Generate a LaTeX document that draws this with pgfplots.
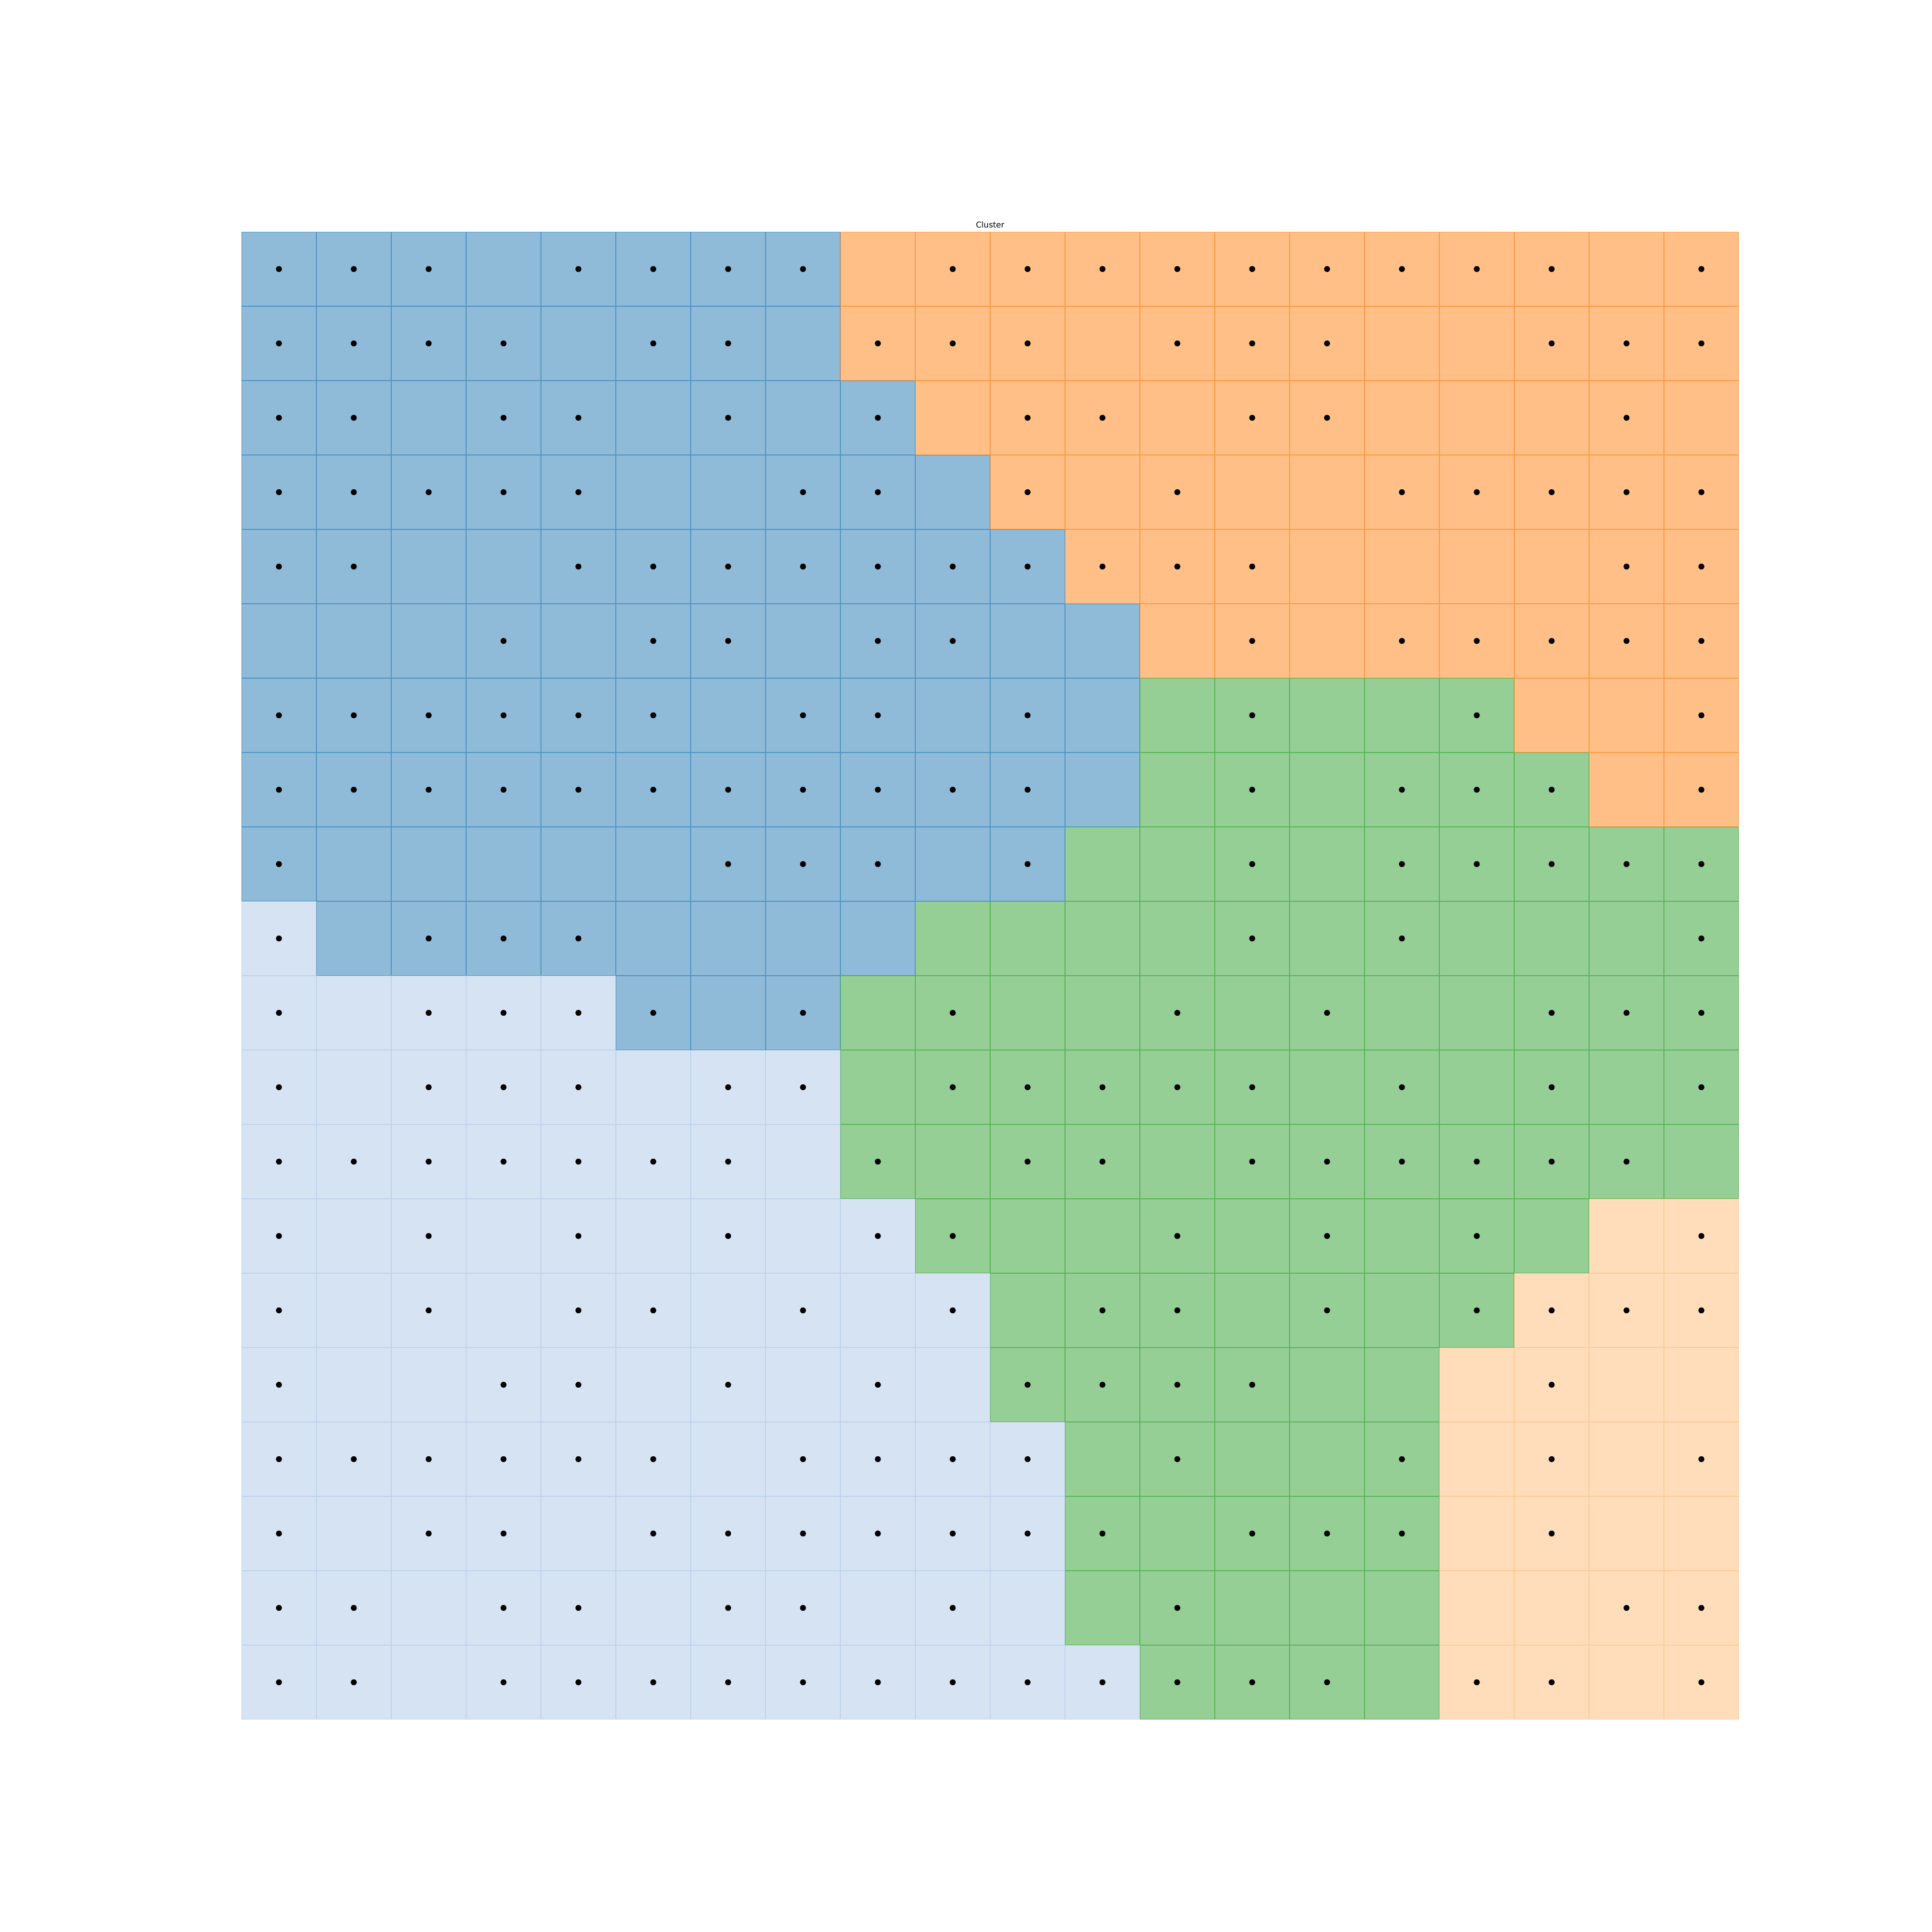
\documentclass[border=0pt]{standalone}
\usepackage{pgfplots}
\pgfplotsset{compat=1.18}
\usepackage{fontspec}
\setmainfont{DejaVu Sans}
\definecolor{tB}{HTML}{1F77B4}
\definecolor{tL}{HTML}{AEC7E8}
\definecolor{tO}{HTML}{FF7F0E}
\definecolor{tP}{HTML}{FFBB78}
\definecolor{tG}{HTML}{2CA02C}
\definecolor{fB}{HTML}{8FBBD9}
\definecolor{fL}{HTML}{D6E3F3}
\definecolor{fO}{HTML}{FFBF86}
\definecolor{fP}{HTML}{FFDDBB}
\definecolor{fG}{HTML}{95CF95}
\begin{document}
\begin{tikzpicture}
\begin{axis}[
  at={(0,0)}, anchor=south west,
  scale only axis, width=31in, height=30.8in,
  xmin=-0.5, xmax=19.5, ymin=-0.5, ymax=19.5,
  axis lines=none, ticks=none, clip=false,
  title={\fontsize{12}{14}\selectfont Cluster},
  title style={at={(0.5,1)}, anchor=base, inner sep=0pt},
  scatter/classes={
    B={mark=square*, fill=fB, draw=tB, draw opacity=0.6, line width=1pt, yscale=0.99355},
    L={mark=square*, fill=fL, draw=tL, draw opacity=0.6, line width=1pt, yscale=0.99355},
    O={mark=square*, fill=fO, draw=tO, draw opacity=0.6, line width=1pt, yscale=0.99355},
    P={mark=square*, fill=fP, draw=tP, draw opacity=0.6, line width=1pt, yscale=0.99355},
    G={mark=square*, fill=fG, draw=tG, draw opacity=0.6, line width=1pt, yscale=0.99355}},
]
\addplot[scatter, only marks, mark size=55.8pt, point meta=explicit symbolic]
 table[meta=c, row sep=\\]{
x y c\\
0 0 L\\ 1 0 L\\ 2 0 L\\ 3 0 L\\ 4 0 L\\ 5 0 L\\ 6 0 L\\ 7 0 L\\ 8 0 L\\ 9 0 L\\ 10 0 L\\ 11 0 L\\ 12 0 G\\ 13 0 G\\ 14 0 G\\ 15 0 G\\ 16 0 P\\ 17 0 P\\ 18 0 P\\ 19 0 P\\
0 1 L\\ 1 1 L\\ 2 1 L\\ 3 1 L\\ 4 1 L\\ 5 1 L\\ 6 1 L\\ 7 1 L\\ 8 1 L\\ 9 1 L\\ 10 1 L\\ 11 1 G\\ 12 1 G\\ 13 1 G\\ 14 1 G\\ 15 1 G\\ 16 1 P\\ 17 1 P\\ 18 1 P\\ 19 1 P\\
0 2 L\\ 1 2 L\\ 2 2 L\\ 3 2 L\\ 4 2 L\\ 5 2 L\\ 6 2 L\\ 7 2 L\\ 8 2 L\\ 9 2 L\\ 10 2 L\\ 11 2 G\\ 12 2 G\\ 13 2 G\\ 14 2 G\\ 15 2 G\\ 16 2 P\\ 17 2 P\\ 18 2 P\\ 19 2 P\\
0 3 L\\ 1 3 L\\ 2 3 L\\ 3 3 L\\ 4 3 L\\ 5 3 L\\ 6 3 L\\ 7 3 L\\ 8 3 L\\ 9 3 L\\ 10 3 L\\ 11 3 G\\ 12 3 G\\ 13 3 G\\ 14 3 G\\ 15 3 G\\ 16 3 P\\ 17 3 P\\ 18 3 P\\ 19 3 P\\
0 4 L\\ 1 4 L\\ 2 4 L\\ 3 4 L\\ 4 4 L\\ 5 4 L\\ 6 4 L\\ 7 4 L\\ 8 4 L\\ 9 4 L\\ 10 4 G\\ 11 4 G\\ 12 4 G\\ 13 4 G\\ 14 4 G\\ 15 4 G\\ 16 4 P\\ 17 4 P\\ 18 4 P\\ 19 4 P\\
0 5 L\\ 1 5 L\\ 2 5 L\\ 3 5 L\\ 4 5 L\\ 5 5 L\\ 6 5 L\\ 7 5 L\\ 8 5 L\\ 9 5 L\\ 10 5 G\\ 11 5 G\\ 12 5 G\\ 13 5 G\\ 14 5 G\\ 15 5 G\\ 16 5 G\\ 17 5 P\\ 18 5 P\\ 19 5 P\\
0 6 L\\ 1 6 L\\ 2 6 L\\ 3 6 L\\ 4 6 L\\ 5 6 L\\ 6 6 L\\ 7 6 L\\ 8 6 L\\ 9 6 G\\ 10 6 G\\ 11 6 G\\ 12 6 G\\ 13 6 G\\ 14 6 G\\ 15 6 G\\ 16 6 G\\ 17 6 G\\ 18 6 P\\ 19 6 P\\
0 7 L\\ 1 7 L\\ 2 7 L\\ 3 7 L\\ 4 7 L\\ 5 7 L\\ 6 7 L\\ 7 7 L\\ 8 7 G\\ 9 7 G\\ 10 7 G\\ 11 7 G\\ 12 7 G\\ 13 7 G\\ 14 7 G\\ 15 7 G\\ 16 7 G\\ 17 7 G\\ 18 7 G\\ 19 7 G\\
0 8 L\\ 1 8 L\\ 2 8 L\\ 3 8 L\\ 4 8 L\\ 5 8 L\\ 6 8 L\\ 7 8 L\\ 8 8 G\\ 9 8 G\\ 10 8 G\\ 11 8 G\\ 12 8 G\\ 13 8 G\\ 14 8 G\\ 15 8 G\\ 16 8 G\\ 17 8 G\\ 18 8 G\\ 19 8 G\\
0 9 L\\ 1 9 L\\ 2 9 L\\ 3 9 L\\ 4 9 L\\ 5 9 B\\ 6 9 B\\ 7 9 B\\ 8 9 G\\ 9 9 G\\ 10 9 G\\ 11 9 G\\ 12 9 G\\ 13 9 G\\ 14 9 G\\ 15 9 G\\ 16 9 G\\ 17 9 G\\ 18 9 G\\ 19 9 G\\
0 10 L\\ 1 10 B\\ 2 10 B\\ 3 10 B\\ 4 10 B\\ 5 10 B\\ 6 10 B\\ 7 10 B\\ 8 10 B\\ 9 10 G\\ 10 10 G\\ 11 10 G\\ 12 10 G\\ 13 10 G\\ 14 10 G\\ 15 10 G\\ 16 10 G\\ 17 10 G\\ 18 10 G\\ 19 10 G\\
0 11 B\\ 1 11 B\\ 2 11 B\\ 3 11 B\\ 4 11 B\\ 5 11 B\\ 6 11 B\\ 7 11 B\\ 8 11 B\\ 9 11 B\\ 10 11 B\\ 11 11 G\\ 12 11 G\\ 13 11 G\\ 14 11 G\\ 15 11 G\\ 16 11 G\\ 17 11 G\\ 18 11 G\\ 19 11 G\\
0 12 B\\ 1 12 B\\ 2 12 B\\ 3 12 B\\ 4 12 B\\ 5 12 B\\ 6 12 B\\ 7 12 B\\ 8 12 B\\ 9 12 B\\ 10 12 B\\ 11 12 B\\ 12 12 G\\ 13 12 G\\ 14 12 G\\ 15 12 G\\ 16 12 G\\ 17 12 G\\ 18 12 O\\ 19 12 O\\
0 13 B\\ 1 13 B\\ 2 13 B\\ 3 13 B\\ 4 13 B\\ 5 13 B\\ 6 13 B\\ 7 13 B\\ 8 13 B\\ 9 13 B\\ 10 13 B\\ 11 13 B\\ 12 13 G\\ 13 13 G\\ 14 13 G\\ 15 13 G\\ 16 13 G\\ 17 13 O\\ 18 13 O\\ 19 13 O\\
0 14 B\\ 1 14 B\\ 2 14 B\\ 3 14 B\\ 4 14 B\\ 5 14 B\\ 6 14 B\\ 7 14 B\\ 8 14 B\\ 9 14 B\\ 10 14 B\\ 11 14 B\\ 12 14 O\\ 13 14 O\\ 14 14 O\\ 15 14 O\\ 16 14 O\\ 17 14 O\\ 18 14 O\\ 19 14 O\\
0 15 B\\ 1 15 B\\ 2 15 B\\ 3 15 B\\ 4 15 B\\ 5 15 B\\ 6 15 B\\ 7 15 B\\ 8 15 B\\ 9 15 B\\ 10 15 B\\ 11 15 O\\ 12 15 O\\ 13 15 O\\ 14 15 O\\ 15 15 O\\ 16 15 O\\ 17 15 O\\ 18 15 O\\ 19 15 O\\
0 16 B\\ 1 16 B\\ 2 16 B\\ 3 16 B\\ 4 16 B\\ 5 16 B\\ 6 16 B\\ 7 16 B\\ 8 16 B\\ 9 16 B\\ 10 16 O\\ 11 16 O\\ 12 16 O\\ 13 16 O\\ 14 16 O\\ 15 16 O\\ 16 16 O\\ 17 16 O\\ 18 16 O\\ 19 16 O\\
0 17 B\\ 1 17 B\\ 2 17 B\\ 3 17 B\\ 4 17 B\\ 5 17 B\\ 6 17 B\\ 7 17 B\\ 8 17 B\\ 9 17 O\\ 10 17 O\\ 11 17 O\\ 12 17 O\\ 13 17 O\\ 14 17 O\\ 15 17 O\\ 16 17 O\\ 17 17 O\\ 18 17 O\\ 19 17 O\\
0 18 B\\ 1 18 B\\ 2 18 B\\ 3 18 B\\ 4 18 B\\ 5 18 B\\ 6 18 B\\ 7 18 B\\ 8 18 O\\ 9 18 O\\ 10 18 O\\ 11 18 O\\ 12 18 O\\ 13 18 O\\ 14 18 O\\ 15 18 O\\ 16 18 O\\ 17 18 O\\ 18 18 O\\ 19 18 O\\
0 19 B\\ 1 19 B\\ 2 19 B\\ 3 19 B\\ 4 19 B\\ 5 19 B\\ 6 19 B\\ 7 19 B\\ 8 19 O\\ 9 19 O\\ 10 19 O\\ 11 19 O\\ 12 19 O\\ 13 19 O\\ 14 19 O\\ 15 19 O\\ 16 19 O\\ 17 19 O\\ 18 19 O\\ 19 19 O\\
};
\addplot[only marks, mark=*, mark size=4.2pt, black] coordinates {
(0,19) (1,19) (2,19) (4,19) (5,19) (6,19) (7,19) (9,19) (10,19) (11,19) (12,19) (13,19) (14,19) (15,19) (16,19) (17,19) (19,19)
(0,18) (1,18) (2,18) (3,18) (5,18) (6,18) (8,18) (9,18) (10,18) (12,18) (13,18) (14,18) (17,18) (18,18) (19,18)
(0,17) (1,17) (3,17) (4,17) (6,17) (8,17) (10,17) (11,17) (13,17) (14,17) (18,17)
(0,16) (1,16) (2,16) (3,16) (4,16) (7,16) (8,16) (10,16) (12,16) (15,16) (16,16) (17,16) (18,16) (19,16)
(0,15) (1,15) (4,15) (5,15) (6,15) (7,15) (8,15) (9,15) (10,15) (11,15) (12,15) (13,15) (18,15) (19,15)
(3,14) (5,14) (6,14) (8,14) (9,14) (13,14) (15,14) (16,14) (17,14) (18,14) (19,14)
(0,13) (1,13) (2,13) (3,13) (4,13) (5,13) (7,13) (8,13) (10,13) (13,13) (16,13) (19,13)
(0,12) (1,12) (2,12) (3,12) (4,12) (5,12) (6,12) (7,12) (8,12) (9,12) (10,12) (13,12) (15,12) (16,12) (17,12) (19,12)
(0,11) (6,11) (7,11) (8,11) (10,11) (13,11) (15,11) (16,11) (17,11) (18,11) (19,11)
(0,10) (2,10) (3,10) (4,10) (13,10) (15,10) (19,10)
(0,9) (2,9) (3,9) (4,9) (5,9) (7,9) (9,9) (12,9) (14,9) (17,9) (18,9) (19,9)
(0,8) (2,8) (3,8) (4,8) (6,8) (7,8) (9,8) (10,8) (11,8) (12,8) (13,8) (15,8) (17,8) (19,8)
(0,7) (1,7) (2,7) (3,7) (4,7) (5,7) (6,7) (8,7) (10,7) (11,7) (13,7) (14,7) (15,7) (16,7) (17,7) (18,7)
(0,6) (2,6) (4,6) (6,6) (8,6) (9,6) (12,6) (14,6) (16,6) (19,6)
(0,5) (2,5) (4,5) (5,5) (7,5) (9,5) (11,5) (12,5) (14,5) (16,5) (17,5) (18,5) (19,5)
(0,4) (3,4) (4,4) (6,4) (8,4) (10,4) (11,4) (12,4) (13,4) (17,4)
(0,3) (1,3) (2,3) (3,3) (4,3) (5,3) (7,3) (8,3) (9,3) (10,3) (12,3) (15,3) (17,3) (19,3)
(0,2) (2,2) (3,2) (5,2) (6,2) (7,2) (8,2) (9,2) (10,2) (11,2) (13,2) (14,2) (15,2) (17,2)
(0,1) (1,1) (3,1) (4,1) (6,1) (7,1) (9,1) (12,1) (18,1) (19,1)
(0,0) (1,0) (3,0) (4,0) (5,0) (6,0) (7,0) (8,0) (9,0) (10,0) (11,0) (12,0) (13,0) (14,0) (16,0) (17,0) (19,0)
};
\end{axis}
\path[use as bounding box] (-5in,-4.4in) rectangle (35in,35.6in);
\end{tikzpicture}
\end{document}
